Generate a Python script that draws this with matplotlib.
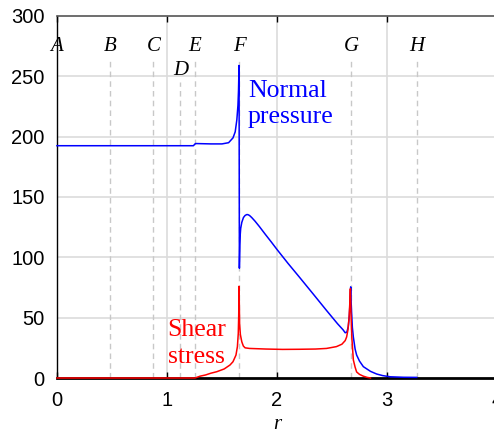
import matplotlib
matplotlib.use("Agg")
import matplotlib.pyplot as plt

# ---- data ----
normal_r = [0, 1.24, 1.255, 1.26, 1.40, 1.50, 1.56, 1.60, 1.62, 1.635, 1.645, 1.65,
            1.655, 1.6565, 1.658, 1.662, 1.665, 1.67, 1.68, 1.695, 1.71, 1.724,
            1.735, 1.75, 1.77, 1.80, 1.84, 1.89, 1.95,
            2.0, 2.1, 2.2, 2.33, 2.45, 2.55, 2.60, 2.62, 2.635, 2.648, 2.658, 2.665,
            2.67, 2.675, 2.685, 2.694, 2.71, 2.724, 2.75, 2.785, 2.85, 2.906, 2.96,
            3.03, 3.15, 3.27]
normal_p = [192.5, 192.5, 194, 194.3, 194, 194, 195, 199, 204, 214, 226, 238,
            259, 180, 91, 110, 118, 124, 129, 133, 134.7, 135.4,
            135.4, 134.7, 133, 130, 125.5, 119.5, 112.5,
            106.5, 95, 84, 69.5, 56, 45, 40, 37.5, 38, 42.5, 52, 65,
            75.5, 60, 42, 34, 24, 19, 14, 9.4, 5.5, 3.3, 2,
            1, 0.6, 0.5]

shear_r = [0, 1.255, 1.30, 1.35, 1.40, 1.452, 1.52, 1.573, 1.60, 1.627, 1.64, 1.648,
           1.652, 1.655, 1.66, 1.667, 1.68, 1.694, 1.71, 1.75, 1.9, 2.05, 2.2,
           2.35, 2.45, 2.54, 2.59, 2.62, 2.633, 2.645, 2.655, 2.662, 2.667, 2.672,
           2.68, 2.694, 2.71, 2.724, 2.75, 2.785, 2.82, 2.85]
shear_s = [0, 0, 1.5, 2.5, 4, 5.2, 7.5, 10.8, 13.5, 19, 26, 37,
           52, 76, 45, 36, 30, 26.5, 25, 24.5, 24, 23.7, 23.8,
           24, 24.5, 26, 28, 31, 34, 40, 50, 62, 74, 55,
           34, 15, 9, 5, 3, 1.5, 0.5, 0]

point_labels = ["A", "B", "C", "D", "E", "F", "G", "H"]
point_r = [0, 0.482, 0.876, 1.121, 1.255, 1.655, 2.675, 3.27]
label_y = [275, 275, 275, 255, 275, 275, 275, 275]
line_top = [265, 265, 265, 245, 265, 265, 265, 265]

xticks = [0, 1, 2, 3, 4]
yticks = [0, 50, 100, 150, 200, 250, 300]

# ---- figure ----
fig = plt.figure(figsize=(4.94, 4.33), dpi=100)
ax = fig.add_axes([57 / 494, 55 / 433, 440 / 494, 362 / 433])
ax.set_xlim(0, 4)
ax.set_ylim(0, 300)

for v in [50, 100, 150, 200, 250]:
    ax.axhline(v, color="#dcdcdc", lw=1.2, zorder=0)
for v in [1, 2, 3]:
    ax.axvline(v, color="#dcdcdc", lw=1.2, zorder=0)

for lab, r, ly, lt in zip(point_labels, point_r, label_y, line_top):
    if r > 0:
        ax.plot([r, r], [0, lt], color="#c8c8c8", lw=1.0, ls=(0, (4, 3)), zorder=1)
    ax.text(r, ly, lab, ha="center", va="center", fontsize=15,
            family="Liberation Serif", style="italic", color="black")

ax.plot(normal_r, normal_p, color="blue", lw=1.1, zorder=4, clip_on=False)
ax.plot(shear_r, shear_s, color="red", lw=1.1, zorder=5, clip_on=False)

txt = dict(fontsize=18.5, family="Liberation Serif", ha="left", va="baseline")
ax.text(1.735, 233, "Normal", color="blue", **txt)
ax.text(1.735, 211.5, "pressure", color="blue", **txt)
ax.text(1.005, 34.4, "Shear", color="red", **txt)
ax.text(1.005, 12.4, "stress", color="red", **txt)

ax.set_xticks(xticks)
ax.set_yticks(yticks)
ax.set_xticklabels([str(t) for t in xticks], family="Liberation Sans", fontsize=14.5)
ax.set_yticklabels([str(t) for t in yticks], family="Liberation Sans", fontsize=14.5)
ax.tick_params(axis="both", direction="in", length=4, width=1, top=True, pad=9,
               colors="black")
ax.tick_params(axis="y", left=False)

ax.set_xlabel("r", family="Liberation Serif", style="italic", fontsize=15, labelpad=4)

ax.spines["right"].set_visible(False)
ax.spines["left"].set_color("black")
ax.spines["left"].set_linewidth(1.0)
ax.spines["top"].set_color("#555555")
ax.spines["top"].set_linewidth(1.2)
ax.spines["bottom"].set_color("black")
ax.spines["bottom"].set_linewidth(2.0)

fig.savefig("out.png", dpi=100)
